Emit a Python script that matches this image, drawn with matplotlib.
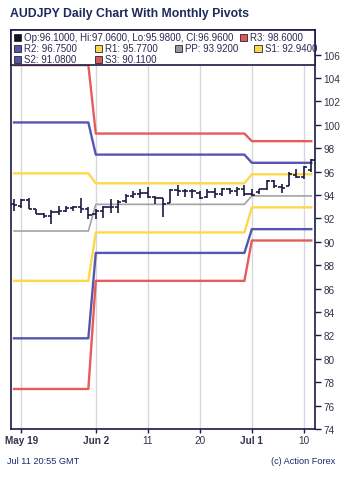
import numpy as np
import pandas as pd
import matplotlib
matplotlib.use("Agg")
import matplotlib.pyplot as plt
from matplotlib.patches import Rectangle

plt.rcParams['font.family'] = ['Liberation Sans', 'DejaVu Sans']

# daily bars, 16 May - 11 Jul (trading days)
dates = pd.bdate_range("2014-05-16", "2014-07-11")

opens = [93.20, 93.06, 93.54, 92.77, 92.41, 92.20, 92.52, 92.60, 92.92, 92.97,
         92.83, 92.41, 92.63, 92.98, 92.97, 93.45, 93.95, 94.07, 94.15, 93.80,
         93.70, 93.35, 94.42, 94.33, 94.33, 94.20, 93.85, 94.25, 94.05, 94.55,
         94.35, 94.50, 94.10, 94.25, 94.48, 95.20, 94.70, 94.80, 95.73, 95.56,
         96.10]
highs = [93.63, 93.63, 93.77, 92.80, 92.45, 92.69, 93.06, 93.06, 93.06, 93.77,
         92.94, 92.77, 93.06, 93.63, 93.55, 94.05, 94.34, 94.48, 94.68, 93.91,
         93.77, 94.48, 94.82, 94.48, 94.48, 94.34, 94.48, 94.62, 94.62, 94.62,
         94.70, 94.82, 94.50, 94.54, 95.25, 95.30, 94.91, 96.00, 96.19, 96.50,
         97.06]
lows = [92.63, 92.86, 92.77, 92.35, 92.01, 91.56, 92.29, 92.52, 92.63, 92.50,
        91.92, 91.92, 92.07, 92.50, 92.50, 93.30, 93.77, 93.77, 93.77, 93.20,
        92.15, 93.35, 93.91, 93.86, 93.77, 93.63, 93.77, 93.77, 93.91, 94.05,
        93.91, 93.91, 93.95, 94.05, 94.40, 94.60, 94.20, 94.75, 95.48, 95.37,
        95.98]
closes = [93.16, 93.54, 92.77, 92.41, 92.20, 92.52, 92.60, 92.92, 92.97, 92.83,
          92.26, 92.63, 92.98, 92.97, 93.40, 93.95, 94.07, 94.15, 93.80, 93.70,
          93.26, 94.42, 94.33, 94.33, 94.30, 93.77, 94.25, 94.05, 94.55, 94.35,
          94.50, 94.10, 94.00, 94.48, 95.20, 94.80, 94.60, 95.80, 95.56, 96.41,
          96.96]

# monthly pivots: May, June, July
r3 = [105.10, 99.25, 98.60]
r2 = [100.20, 97.45, 96.75]
r1 = [95.85, 95.00, 95.77]
pp = [90.92, 93.20, 93.92]
s1 = [86.66, 90.80, 92.94]
s2 = [81.75, 89.05, 91.08]
s3 = [77.42, 86.66, 90.11]

tick_idx = [1, 11, 18, 25, 32, 39]
tick_labels = ["May 19", "Jun 2", "11", "20", "Jul 1", "10"]
bold_labels = ["May 19", "Jun 2", "Jul 1"]

navy = '#1a1a44'
c_red = '#e65b5b'
c_blue = '#5656b0'
c_yel = '#ffd84a'
c_gray = '#a3a3a3'

W, H = 350, 481
fig = plt.figure(figsize=(W / 100, H / 100), dpi=100)


def px(x, y):
    return x / W, 1 - y / H


left, right, top, bottom = 10.7, 315, 31, 430
ax = fig.add_axes([left / W, 1 - bottom / H, (right - left) / W, (bottom - top) / H])

x = np.arange(len(dates))
month = np.array([d.month for d in dates]) - 5

# pivot lines
for vals, col, lw in [(r3, c_red, 1.7), (r2, c_blue, 1.7), (r1, c_yel, 1.7),
                      (pp, c_gray, 1.2), (s1, c_yel, 1.7), (s2, c_blue, 1.7),
                      (s3, c_red, 1.7)]:
    ax.plot(x, np.array(vals)[month], color=col, lw=lw, zorder=2)

# OHLC bars
ax.vlines(x, lows, highs, color=navy, lw=1.2, zorder=3)
ax.hlines(opens, x - 0.45, x, color=navy, lw=1.2, zorder=3)
ax.hlines(closes, x, x + 0.45, color=navy, lw=1.2, zorder=3)

ax.set_xlim(-0.45, 40.5)
ax.set_ylim(74, 108.1)

ax.yaxis.tick_right()
ax.set_yticks(np.arange(74, 107, 2))
ax.tick_params(axis='y', direction='out', length=4, width=1, color=navy,
               labelsize=7.2, labelcolor='#33334d', pad=2)
ax.set_xticks(tick_idx)
ax.set_xticklabels(tick_labels)
ax.tick_params(axis='x', direction='out', length=3, width=1, color=navy,
               labelsize=7.2, labelcolor='#33334d', pad=1.5)
for lab in ax.get_xticklabels():
    if lab.get_text() in bold_labels:
        lab.set_fontweight('bold')
ax.grid(True, axis='x', color='#d8d8dc', lw=1)
ax.set_axisbelow(True)
for s in ax.spines.values():
    s.set_color(navy)
    s.set_linewidth(1.2)

# legend box
lx0, ly0, lx1, ly1 = px(10.7, 31)[0], px(0, 31)[1], px(315, 0)[0], px(0, 66)[1]
fig.patches.append(Rectangle((lx0, ly1), lx1 - lx0, ly0 - ly1, transform=fig.transFigure,
                             facecolor='white', edgecolor=navy, lw=1.2, zorder=5))

legend_items = [
    (17, 38, '#111122', "Op:96.1000, Hi:97.0600, Lo:95.9800, Cl:96.9600"),
    (243, 38, '#e05555', "R3: 98.6000"),
    (17, 49, '#5555aa', "R2: 96.7500"),
    (98, 49, '#ffd84a', "R1: 95.7700"),
    (178, 49, '#999999', "PP: 93.9200"),
    (258, 49, '#ffd84a', "S1: 92.9400"),
    (17, 60, '#5555aa', "S2: 91.0800"),
    (98, 60, '#e05555', "S3: 90.1100"),
]
for lxp, lyp, col, txt in legend_items:
    fx, fy = px(lxp - 3.5, lyp + 3.5)
    fig.patches.append(Rectangle((fx, fy), 7 / W, 7 / H, transform=fig.transFigure,
                                 facecolor=col, edgecolor='#222233', lw=0.6, zorder=6))
    tx, ty = px(lxp + 7, lyp)
    fig.text(tx, ty, txt, fontsize=7, color='#2a2a55', va='center', ha='left', zorder=7)

fig.text(*px(10, 14), "AUDJPY Daily Chart With Monthly Pivots", fontsize=8.8,
         fontweight='bold', color='#1c2a5c', va='center', ha='left')
fig.text(*px(7, 462), "Jul 11 20:55 GMT", fontsize=6.6, color='#1c2a6c', va='center', ha='left')
fig.text(*px(335, 462), "(c) Action Forex", fontsize=6.6, color='#1c2a6c', va='center', ha='right')

fig.savefig("out.png", dpi=100, facecolor='white')
